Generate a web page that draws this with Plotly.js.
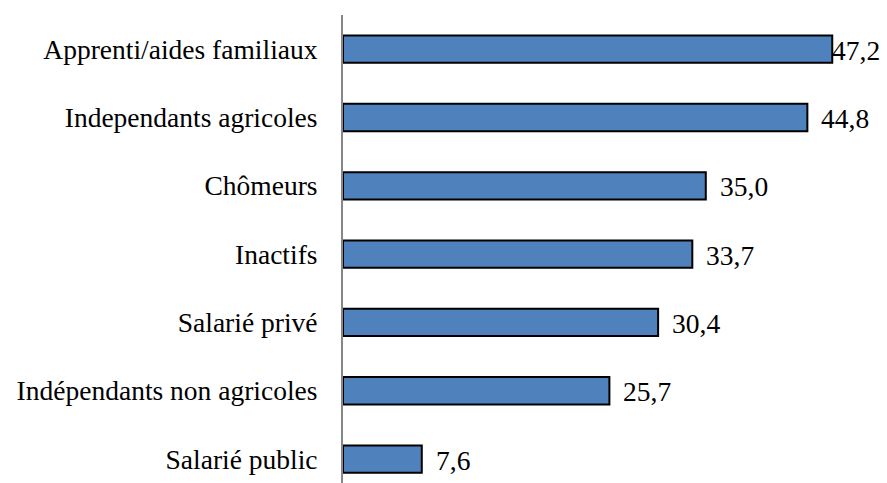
<!DOCTYPE html>
<html>
<head>
<meta charset="utf-8">
<script src="https://cdn.plot.ly/plotly-3.0.1.min.js"></script>
<style>html,body{margin:0;padding:0;background:#fff;}#chart{width:887px;height:483px;}</style>
</head>
<body>
<div id="chart"></div>
<script>
// Bottom-to-top order
var categories = ["Salarié public", "Indépendants non agricoles", "Salarié privé", "Inactifs", "Chômeurs", "Independants agricoles", "Apprenti/aides familiaux"];
var values = [7.6, 25.7, 30.4, 33.7, 35.0, 44.8, 47.2];
var valueLabels = ["7,6", "25,7", "30,4", "33,7", "35,0", "44,8", "47,2"];

var font = {family: 'Liberation Serif, Times New Roman, serif', size: 27.5, color: '#000'};
var maxV = Math.max.apply(null, values);

var annotations = values.map(function (v, i) {
  return {
    x: v, y: i, xref: 'x', yref: 'y', text: valueLabels[i],
    showarrow: false, xanchor: 'left', yanchor: 'middle',
    xshift: v === maxV ? -2 : 12, yshift: -1, font: font
  };
});

var trace = {
  type: 'bar', orientation: 'h',
  x: values, y: categories.map(function (c, i) { return i; }),
  marker: {color: '#4F81BD', line: {color: '#000', width: 2}},
  width: 0.4, hoverinfo: 'none'
};

var layout = {
  width: 887, height: 483,
  margin: {l: 343, r: 5, t: 15, b: 0},
  paper_bgcolor: '#fff', plot_bgcolor: '#fff',
  showlegend: false,
  font: font,
  xaxis: {range: [0, 52], showgrid: false, zeroline: false, showline: false, showticklabels: false, ticks: ''},
  yaxis: {
    range: [-0.35, 6.5], tickmode: 'array',
    tickvals: categories.map(function (c, i) { return i; }), ticktext: categories,
    showgrid: false, zeroline: false, showline: true, linecolor: '#878787', linewidth: 2,
    ticks: '', ticklabelstandoff: 18, tickfont: font
  },
  annotations: annotations
};

Plotly.newPlot('chart', [trace], layout, {displayModeBar: false, staticPlot: true});
</script>
</body>
</html>
